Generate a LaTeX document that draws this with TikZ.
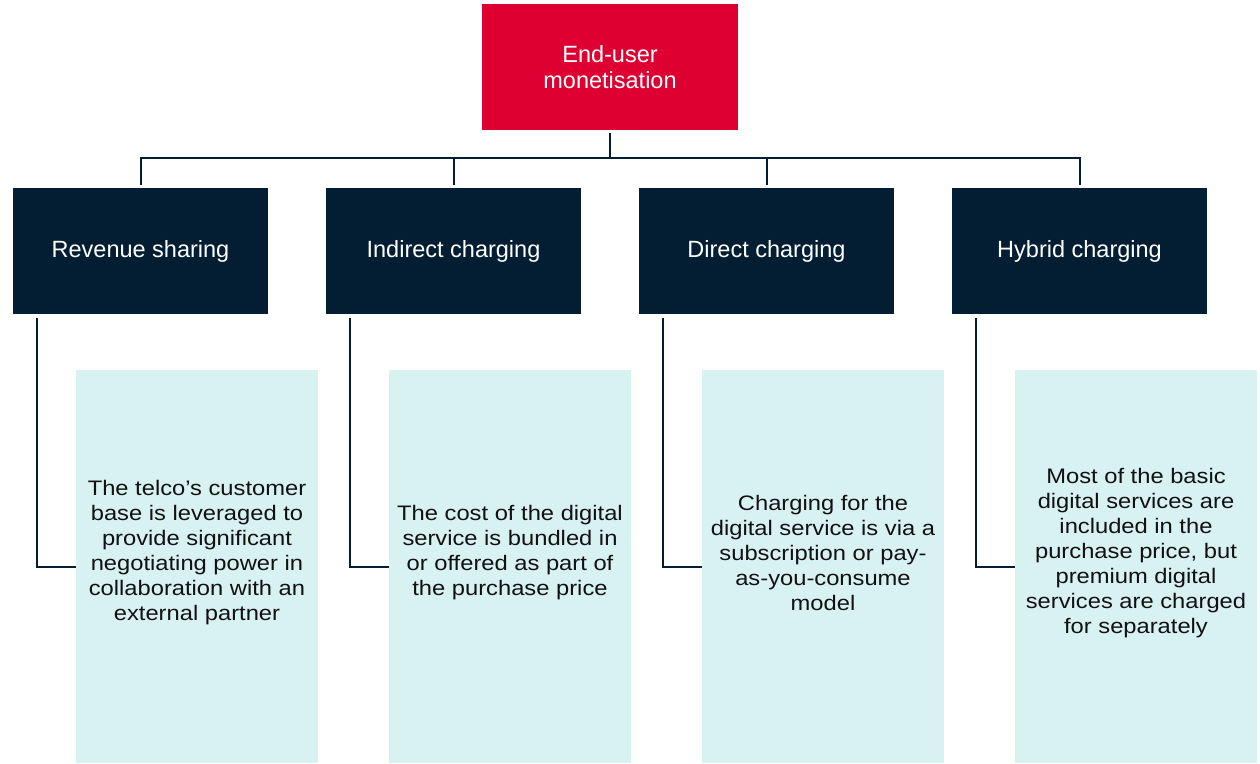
\documentclass[tikz,border=0pt]{standalone}
\usepackage{fontspec}
\setmainfont{Liberation Sans}
\newfontfamily\bodyfont{Liberation Sans}[FakeStretch=1.13]
\definecolor{tred}{HTML}{DD0031}
\definecolor{navy}{HTML}{031E33}
\definecolor{pale}{HTML}{D8F1F1}
\definecolor{ink}{HTML}{111111}
\begin{document}
\begin{tikzpicture}[x=1pt,y=-1pt,
  topbox/.style={fill=tred, text=white, minimum width=256pt, minimum height=126pt, align=center, inner sep=0pt, font=\fontsize{23.5}{25.5}\selectfont},
  headbox/.style={fill=navy, text=white, minimum width=255pt, minimum height=126pt, inner sep=0pt, font=\fontsize{23.5}{25.5}\selectfont},
  detailbox/.style={fill=pale, minimum width=242pt, minimum height=393pt, inner sep=0pt},
  desc/.style={align=center, text=ink, inner sep=0pt, font=\bodyfont\fontsize{21}{25}\selectfont},
  link/.style={draw=navy, line width=2pt}]
\useasboundingbox (0,0) rectangle (1260,763);
\node[topbox] (root) at (610,67) {End-user\\monetisation};
\node[headbox] (h1) at (140.5,251) {Revenue sharing};
\node[headbox] (h2) at (453.5,251) {Indirect charging};
\node[headbox] (h3) at (766.5,251) {Direct charging};
\node[headbox] (h4) at (1079.5,251) {Hybrid charging};
\node[detailbox] (d1) at (197,566.5) {};
\node[detailbox] (d2) at (510,566.5) {};
\node[detailbox] (d3) at (823,566.5) {};
\node[detailbox] (d4) at (1136,566.5) {};
\node[desc] (t1) at (197,553) {The telco’s customer\\base is leveraged to\\provide significant\\negotiating power in\\collaboration with an\\external partner};
\node[desc] (t2) at (510,553) {The cost of the digital\\service is bundled in\\or offered as part of\\the purchase price};
\node[desc] (t3) at (823,553) {Charging for the\\digital service is via a\\subscription or pay-\\as-you-consume\\model};
\node[desc] (t4) at (1136,553) {Most of the basic\\digital services are\\included in the\\purchase price, but\\premium digital\\services are charged\\for separately};
\coordinate (bus) at (610,158);
\draw[link, shorten <=3pt] (root.south) -- (root.south |- bus);
\draw[link, shorten <=3pt, shorten >=3pt] (h1.north) -- (h1.north |- bus) -- (h4.north |- bus) -- (h4.north);
\draw[link, shorten >=3pt] (h2.north |- bus) -- (h2.north);
\draw[link, shorten >=3pt] (h3.north |- bus) -- (h3.north);
\foreach \i in {1,2,3,4}{
  \draw[link, shorten <=4pt] ([xshift=24pt]h\i.south west) |- (d\i.west);
}
\end{tikzpicture}
\end{document}
